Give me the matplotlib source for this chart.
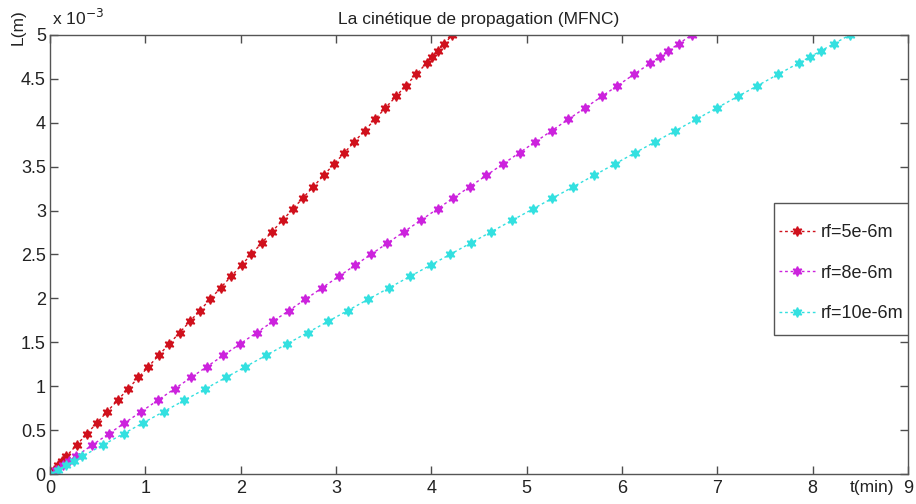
import numpy as np
import matplotlib
matplotlib.use("Agg")
import matplotlib.pyplot as plt
from matplotlib.patches import Rectangle

plt.rcParams['font.family'] = ['Liberation Sans', 'DejaVu Sans']

# L in units of 1e-3 m (same sampling read for all three curves)
L = [0, 0.05, 0.10, 0.15, 0.20, 0.33, 0.46, 0.58, 0.71, 0.84, 0.97, 1.10,
     1.22, 1.35, 1.48, 1.61, 1.74, 1.86, 1.99, 2.12, 2.25, 2.38, 2.50, 2.63,
     2.76, 2.89, 3.02, 3.14, 3.27, 3.40, 3.53, 3.66, 3.78, 3.91, 4.04, 4.17,
     4.30, 4.42, 4.55, 4.68, 4.75, 4.82, 4.90, 5.00]

t_rf5 = [0, 0.042, 0.084, 0.127, 0.169, 0.279, 0.388, 0.490, 0.599, 0.709,
         0.819, 0.928, 1.030, 1.139, 1.249, 1.359, 1.469, 1.570, 1.680, 1.789,
         1.899, 2.009, 2.110, 2.220, 2.329, 2.439, 2.549, 2.650, 2.760, 2.870,
         2.979, 3.089, 3.190, 3.300, 3.410, 3.519, 3.629, 3.730, 3.840, 3.950,
         4.009, 4.068, 4.136, 4.220]

t_rf8 = [0, 0.067, 0.135, 0.202, 0.269, 0.444, 0.619, 0.781, 0.956, 1.131,
         1.306, 1.481, 1.642, 1.817, 1.992, 2.167, 2.342, 2.504, 2.679, 2.854,
         3.029, 3.203, 3.365, 3.540, 3.715, 3.890, 4.065, 4.226, 4.401, 4.576,
         4.751, 4.926, 5.088, 5.263, 5.438, 5.613, 5.788, 5.949, 6.124, 6.299,
         6.394, 6.488, 6.595, 6.730]

t_rf10 = [0, 0.084, 0.168, 0.252, 0.336, 0.554, 0.772, 0.973, 1.191, 1.410,
          1.628, 1.846, 2.047, 2.265, 2.483, 2.702, 2.920, 3.121, 3.339, 3.557,
          3.776, 3.994, 4.195, 4.413, 4.631, 4.849, 5.068, 5.269, 5.487, 5.705,
          5.923, 6.141, 6.343, 6.561, 6.779, 6.997, 7.215, 7.417, 7.635, 7.853,
          7.971, 8.088, 8.222, 8.390]

labels = ['rf=5e-6m', 'rf=8e-6m', 'rf=10e-6m']
colors = ['#d0101c', '#cc22dd', '#33e0e0']

fig = plt.figure(figsize=(9.16, 5.04), dpi=100)
ax = fig.add_axes([0.0546, 0.0595, 0.9366, 0.8711])

for t, lab, c in zip([t_rf5, t_rf8, t_rf10], labels, colors):
    ax.plot(t, L, linestyle=(0, (2, 2)), color=c, lw=1.0, marker=(6, 1, 0),
            markersize=7, markeredgecolor=c, markerfacecolor=c, label=lab)

ax.set_xlim(0, 9)
ax.set_ylim(0, 5)
ax.set_xticks(range(10))
ax.set_xticklabels(['0', '1', '2', '3', '4', '5', '6', '7', '8', '9'])
ax.set_yticks(np.arange(0, 5.01, 0.5))
ax.set_yticklabels(['0', '0.5', '1', '1.5', '2', '2.5', '3', '3.5', '4', '4.5', '5'])
ax.tick_params(direction='in', top=True, right=True, length=6, width=1,
               labelsize=13, colors='#4d4d4d', labelcolor='#222222')
ax.tick_params(axis='x', pad=4)
ax.tick_params(axis='y', pad=3)
for s in ax.spines.values():
    s.set_color('#555555')
    s.set_linewidth(1)

ax.set_title('La cinétique de propagation (MFNC)', fontsize=12.5, color='#222222', pad=8)
fig.text(0.057, 0.945, r'x 10$^{-3}$', fontsize=12.5, color='#222222', ha='left', va='bottom')
fig.text(0.02, 0.946, 'L(m)', fontsize=12.5, color='#222222', rotation=90, ha='center', va='center')
fig.text(0.952, 0.018, 't(min)', fontsize=12.5, color='#222222', ha='center', va='bottom')

# legend box drawn separately (MATLAB-like padding)
ax.add_patch(Rectangle((0.8438, 0.3166), 0.1562, 0.3004, transform=ax.transAxes,
                       facecolor='white', edgecolor='#555555', lw=1, zorder=4))
leg = ax.legend(loc='upper right', bbox_to_anchor=(1.0135, 0.606), fontsize=13,
                frameon=False, handlelength=2.0, labelspacing=1.3, borderpad=0.9,
                handletextpad=0.3, borderaxespad=0)
leg.set_zorder(5)
for txt in leg.get_texts():
    txt.set_color('#222222')

fig.savefig('out.png', dpi=100)
